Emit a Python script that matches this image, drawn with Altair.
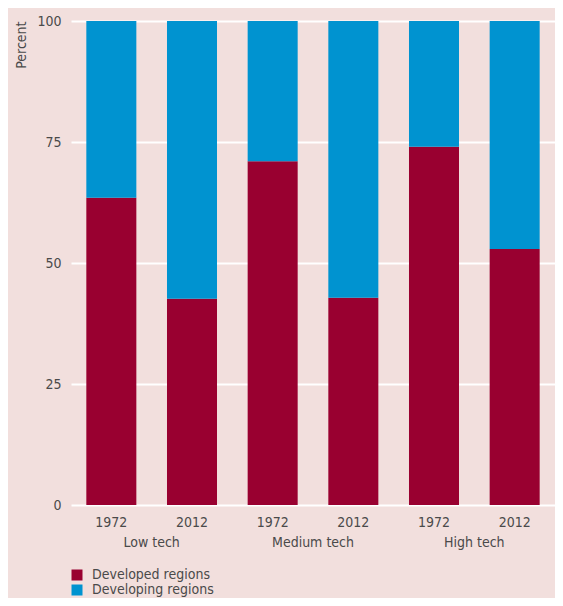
import altair as alt
import pandas as pd

groups = ["Low tech", "Low tech", "Medium tech", "Medium tech", "High tech", "High tech"]
years = ["1972", "2012", "1972", "2012", "1972", "2012"]
developed = [63.5, 42.6, 71.0, 42.8, 74.0, 52.9]
developing = [36.5, 57.4, 29.0, 57.2, 26.0, 47.1]
series = ["Developed regions", "Developing regions"]
colors = ["#990030", "#0093d0"]
group_order = ["Low tech", "Medium tech", "High tech"]

rows = []
for g, y, d1, d2 in zip(groups, years, developed, developing):
    rows.append({"group": g, "year": y, "series": series[0], "value": d1, "ord": 0})
    rows.append({"group": g, "year": y, "series": series[1], "value": d2, "ord": 1})
df = pd.DataFrame(rows)
yr = pd.DataFrame({"group": groups, "year": years})

FONT = "DejaVu Sans Condensed, Liberation Sans Narrow, sans-serif"
TXT = "#4a4a4a"
FS = 14
W, H = 484, 484

xenc = alt.X("group:N", sort=group_order, scale=alt.Scale(paddingInner=0, paddingOuter=0),
             axis=alt.Axis(title=None, labelAngle=0, ticks=False, domain=False, labelPadding=30,
                           labelFontSize=FS, labelFont=FONT, labelColor=TXT))
xoff = alt.XOffset("year:N", scale=alt.Scale(paddingInner=0.38, paddingOuter=0.19))

bars = alt.Chart(df).mark_bar().encode(
    x=xenc,
    xOffset=xoff,
    y=alt.Y("value:Q", stack="zero", scale=alt.Scale(domain=[0, 100]),
            axis=alt.Axis(values=[0, 25, 50, 75, 100], title="Percent", titleAnchor="end",
                          titleAngle=-90, titleFontWeight="normal", titleFontSize=FS,
                          titleFont=FONT, titleColor=TXT, titlePadding=8,
                          labelFontSize=FS, labelFont=FONT, labelColor=TXT, labelPadding=10,
                          ticks=False, domain=False, grid=True, gridColor="white", gridWidth=2)),
    color=alt.Color("series:N", scale=alt.Scale(domain=series, range=colors),
                    legend=alt.Legend(title=None, orient="none", legendX=-1, legendY=547,
                                      direction="vertical", symbolType="square", symbolSize=121,
                                      symbolStrokeWidth=0, symbolOpacity=1, labelFontSize=FS,
                                      labelFont=FONT, labelColor=TXT, rowPadding=1, padding=0,
                                      labelOffset=8)),
    order=alt.Order("ord:Q"),
)

ylabels = alt.Chart(yr).mark_text(fontSize=FS, font=FONT, color=TXT, baseline="middle").encode(
    x=alt.X("group:N", sort=group_order),
    xOffset=alt.XOffset("year:N"),
    y=alt.value(H + 18),
    text="year:N",
)

chart = alt.layer(bars, ylabels).properties(
    width=W, height=H,
    background="#f2dfdd",
    padding={"left": 63, "top": 13, "right": 0, "bottom": 93},
    autosize=alt.AutoSizeParams(type="none"),
).configure_view(stroke=None)

chart.save("out.html", embed_options={"renderer": "svg", "actions": False})
